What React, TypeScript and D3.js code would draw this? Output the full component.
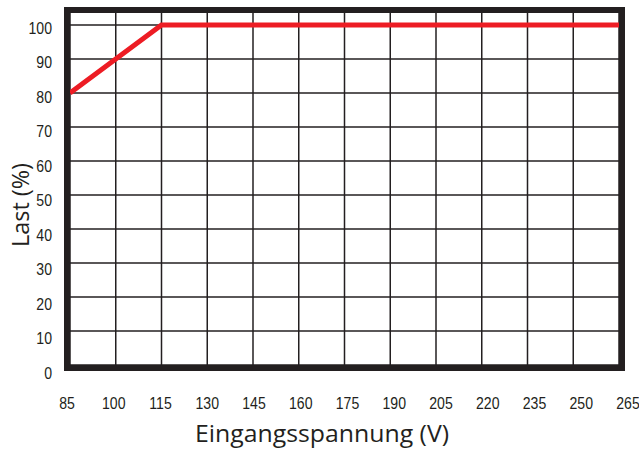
import React from "react";
import * as d3 from "d3";

const voltage = [85, 115, 265];
const load = [80, 100, 100];
const xTicks = [85, 100, 115, 130, 145, 160, 175, 190, 205, 220, 235, 250, 265];
const yTicks = [0, 10, 20, 30, 40, 50, 60, 70, 80, 90, 100];
const xTitle = "Eingangsspannung (V)";
const yTitle = "Last (%)";

export default function App() {
  const W = 639, H = 450;
  const L = 70, R = 619, T = 13, B = 365;
  const x = d3.scaleLinear().domain([85, 265]).range([L, R]);
  const y = d3.scaleLinear().domain([0, 103.5]).range([B, T]);
  const xLab = d3.scaleLinear().domain([85, 265]).range([67, 628]);
  const yLab = d3.scaleLinear().domain([0, 100]).range([373, 28]);
  const line = d3.line<number>().x((_, i) => x(voltage[i])).y((d) => y(d));
  const dark = "#231f20";
  const tickFont = "'Liberation Sans', Arial, sans-serif";
  const titleFont = "'Open Sans', 'Noto Sans', sans-serif";
  const sx = 0.88;
  return (
    <svg width={W} height={H} style={{ position: "absolute", left: 0, top: 0 }}>
      <rect x={0} y={0} width={W} height={H} fill="#fff" />
      {xTicks.map((t) => (
        <line key={"gx" + t} x1={x(t)} x2={x(t)} y1={T} y2={B} stroke={dark} strokeWidth={1.5} />
      ))}
      {yTicks.map((t) => (
        <line key={"gy" + t} x1={L} x2={R} y1={y(t)} y2={y(t)} stroke={dark} strokeWidth={1.5} />
      ))}
      <path d={line(load) || ""} fill="none" stroke="#ed1c24" strokeWidth={5} strokeLinejoin="miter" />
      <rect x={L - 3} y={T - 3} width={R - L + 6} height={B - T + 6} fill="none" stroke={dark} strokeWidth={6} />
      {xTicks.map((t) => (
        <text key={"lx" + t} transform={`translate(${xLab(t)}, 403) scale(${sx}, 1)`} textAnchor="middle" dominantBaseline="central"
          fontFamily={tickFont} fontSize={16} fill={dark}>{t}</text>
      ))}
      {yTicks.map((t) => (
        <text key={"ly" + t} transform={`translate(52, ${yLab(t)}) scale(${sx}, 1)`} textAnchor="end" dominantBaseline="central"
          fontFamily={tickFont} fontSize={16} fill={dark}>{t}</text>
      ))}
      <text x={322} y={433} textAnchor="middle" dominantBaseline="central" textLength={254} lengthAdjust="spacingAndGlyphs"
        fontFamily={titleFont} fontSize={23} fill={dark}>{xTitle}</text>
      <text transform={`translate(20, 205) rotate(-90)`} textAnchor="middle" dominantBaseline="central" textLength={84} lengthAdjust="spacingAndGlyphs"
        fontFamily={titleFont} fontSize={23} fill={dark}>{yTitle}</text>
    </svg>
  );
}
